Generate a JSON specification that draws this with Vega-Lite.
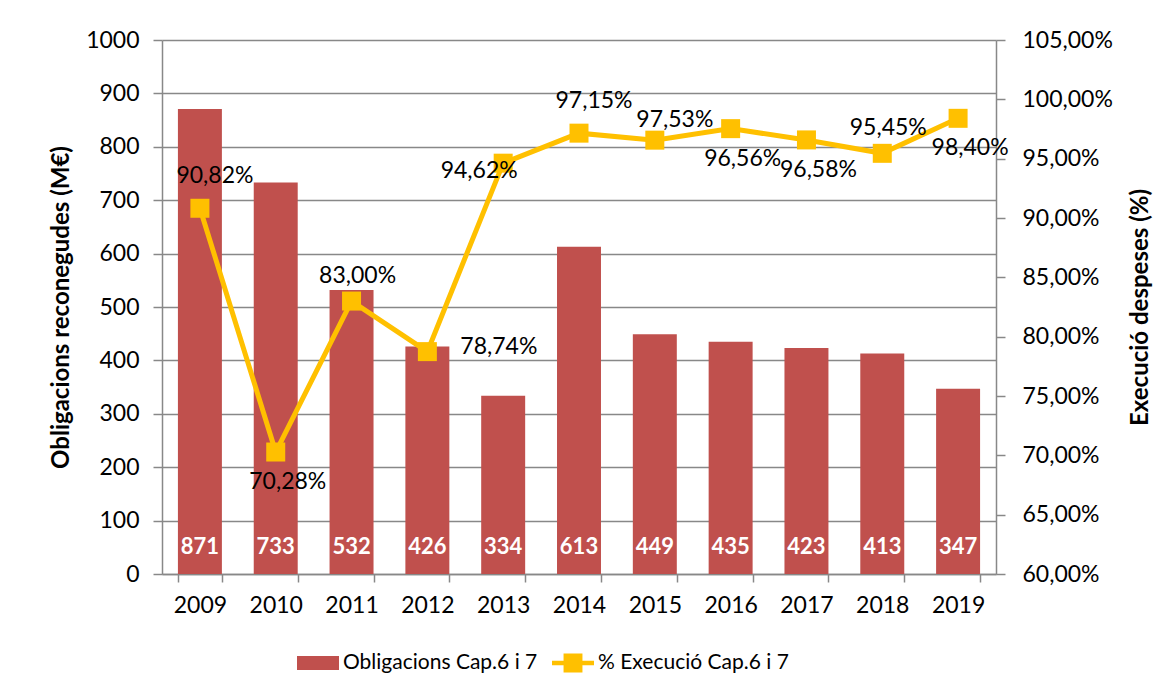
{
  "$schema": "https://vega.github.io/schema/vega-lite/v6.json",
  "width": 834,
  "height": 534,
  "autosize": "none",
  "padding": {"left": 162, "top": 40, "right": 180, "bottom": 123},
  "background": "white",
  "data": {
    "values": [
      {"any": "2009", "obligacions": 871, "execucio": 0.9082, "etiqueta": "90,82%"},
      {"any": "2010", "obligacions": 733, "execucio": 0.7028, "etiqueta": "70,28%"},
      {"any": "2011", "obligacions": 532, "execucio": 0.83, "etiqueta": "83,00%"},
      {"any": "2012", "obligacions": 426, "execucio": 0.7874, "etiqueta": "78,74%"},
      {"any": "2013", "obligacions": 334, "execucio": 0.9462, "etiqueta": "94,62%"},
      {"any": "2014", "obligacions": 613, "execucio": 0.9715, "etiqueta": "97,15%"},
      {"any": "2015", "obligacions": 449, "execucio": 0.9656, "etiqueta": "97,53%"},
      {"any": "2016", "obligacions": 435, "execucio": 0.9753, "etiqueta": "96,56%"},
      {"any": "2017", "obligacions": 423, "execucio": 0.9658, "etiqueta": "96,58%"},
      {"any": "2018", "obligacions": 413, "execucio": 0.9545, "etiqueta": "95,45%"},
      {"any": "2019", "obligacions": 347, "execucio": 0.984, "etiqueta": "98,40%"}
    ]
  },
  "encoding": {
    "x": {
      "field": "any",
      "type": "ordinal",
      "scale": {"paddingInner": 0.42, "paddingOuter": 0.21},
      "axis": {
        "title": null,
        "labelAngle": 0,
        "tickBand": "extent",
        "tickSize": 8,
        "labelPadding": 12,
        "grid": false
      }
    }
  },
  "layer": [
    {
      "encoding": {
        "y": {
          "field": "obligacions",
          "type": "quantitative",
          "scale": {"domain": [0, 1000], "nice": false},
          "axis": {
            "orient": "left",
            "title": "Obligacions reconegudes (M€)",
            "values": [0, 100, 200, 300, 400, 500, 600, 700, 800, 900, 1000],
            "format": "d",
            "grid": true,
            "tickSize": 9,
            "labelPadding": 14,
            "titlePadding": 12
          }
        }
      },
      "layer": [
        {
          "mark": {"type": "bar"},
          "encoding": {
            "color": {
              "datum": "Obligacions Cap.6 i 7",
              "scale": {"domain": ["Obligacions Cap.6 i 7", "% Execució Cap.6 i 7"], "range": ["#C0504D", "#FFC000"]},
              "legend": {
                "encode": {
                  "symbols": {
                    "update": {
                      "shape": {"signal": "datum.value == 'Obligacions Cap.6 i 7' ? 'M-1,-0.33H1V0.33H-1Z' : 'M-1,-0.11H1V0.11H-1Z M-0.45,-0.45H0.45V0.45H-0.45Z'"},
                      "fill": {"signal": "datum.value == 'Obligacions Cap.6 i 7' ? '#C0504D' : '#FFC000'"},
                      "opacity": {"value": 1},
                      "strokeWidth": {"value": 0}
                    }
                  }
                }
              }
            }
          }
        },
        {
          "mark": {"type": "text", "dy": -27, "baseline": "middle", "align": "center", "color": "white", "fontWeight": "bold", "fontSize": 22, "font": "Lato"},
          "encoding": {
            "y": {"datum": 0, "type": "quantitative"},
            "text": {"field": "obligacions", "type": "quantitative"}
          }
        }
      ]
    },
    {
      "encoding": {
        "y": {
          "field": "execucio",
          "type": "quantitative",
          "scale": {"domain": [0.6, 1.05], "nice": false, "zero": false},
          "axis": {
            "orient": "right",
            "title": "Execució despeses (%)",
            "titleAngle": 270,
            "values": [0.6, 0.65, 0.7, 0.75, 0.8, 0.85, 0.9, 0.95, 1.0, 1.05],
            "format": ".2%",
            "grid": false,
            "tickSize": 9,
            "labelPadding": 17,
            "titlePadding": 40
          }
        }
      },
      "layer": [
        {
          "mark": {"type": "line", "strokeWidth": 5, "point": {"shape": "square", "size": 361, "filled": true, "opacity": 1}},
          "encoding": {
            "color": {"datum": "% Execució Cap.6 i 7"}
          }
        },
        {
          "transform": [{"filter": "datum.any == '2009' || datum.any == '2014'"}],
          "mark": {"type": "text", "dx": 15, "dy": -32, "baseline": "middle", "align": "center", "fontSize": 23, "font": "Lato", "color": "black"},
          "encoding": {"text": {"field": "etiqueta"}}
        },
        {
          "transform": [{"filter": "datum.any == '2011' || datum.any == '2018'"}],
          "mark": {"type": "text", "dx": 6, "dy": -25, "baseline": "middle", "align": "center", "fontSize": 23, "font": "Lato", "color": "black"},
          "encoding": {"text": {"field": "etiqueta"}}
        },
        {
          "transform": [{"filter": "datum.any == '2015'"}],
          "mark": {"type": "text", "dx": 20, "dy": -20, "baseline": "middle", "align": "center", "fontSize": 23, "font": "Lato", "color": "black"},
          "encoding": {"text": {"field": "etiqueta"}}
        },
        {
          "transform": [{"filter": "datum.any == '2010' || datum.any == '2016' || datum.any == '2017' || datum.any == '2019'"}],
          "mark": {"type": "text", "dx": 12, "dy": 30, "baseline": "middle", "align": "center", "fontSize": 23, "font": "Lato", "color": "black"},
          "encoding": {"text": {"field": "etiqueta"}}
        },
        {
          "transform": [{"filter": "datum.any == '2012'"}],
          "mark": {"type": "text", "dx": 33, "dy": -5, "baseline": "middle", "align": "left", "fontSize": 23, "font": "Lato", "color": "black"},
          "encoding": {"text": {"field": "etiqueta"}}
        },
        {
          "transform": [{"filter": "datum.any == '2013'"}],
          "mark": {"type": "text", "dx": -24, "dy": 8, "baseline": "middle", "align": "center", "fontSize": 23, "font": "Lato", "color": "black"},
          "encoding": {"text": {"field": "etiqueta"}}
        }
      ]
    }
  ],
  "resolve": {"scale": {"y": "independent"}},
  "config": {
    "locale": {"number": {"decimal": ",", "thousands": ".", "grouping": [3], "currency": ["", " €"]}},
    "view": {"stroke": null},
    "font": "Lato",
    "axis": {
      "labelFont": "Lato",
      "labelFontSize": 23,
      "labelColor": "black",
      "titleFont": "Lato",
      "titleFontSize": 24,
      "titleFontWeight": "bold",
      "titleColor": "black",
      "domainColor": "#888888",
      "domainWidth": 1.5,
      "tickColor": "#888888",
      "tickWidth": 1.5,
      "gridColor": "#888888",
      "gridWidth": 1.5,
      "gridOpacity": 1
    },
    "legend": {
      "orient": "none",
      "legendX": 135,
      "legendY": 602,
      "direction": "horizontal",
      "title": null,
      "padding": 0,
      "labelFont": "Lato",
      "labelFontSize": 21,
      "labelColor": "black",
      "labelLimit": 300,
      "labelOffset": 4,
      "columnPadding": 14,
      "symbolSize": 1764,
      "symbolStrokeWidth": 0
    }
  }
}
